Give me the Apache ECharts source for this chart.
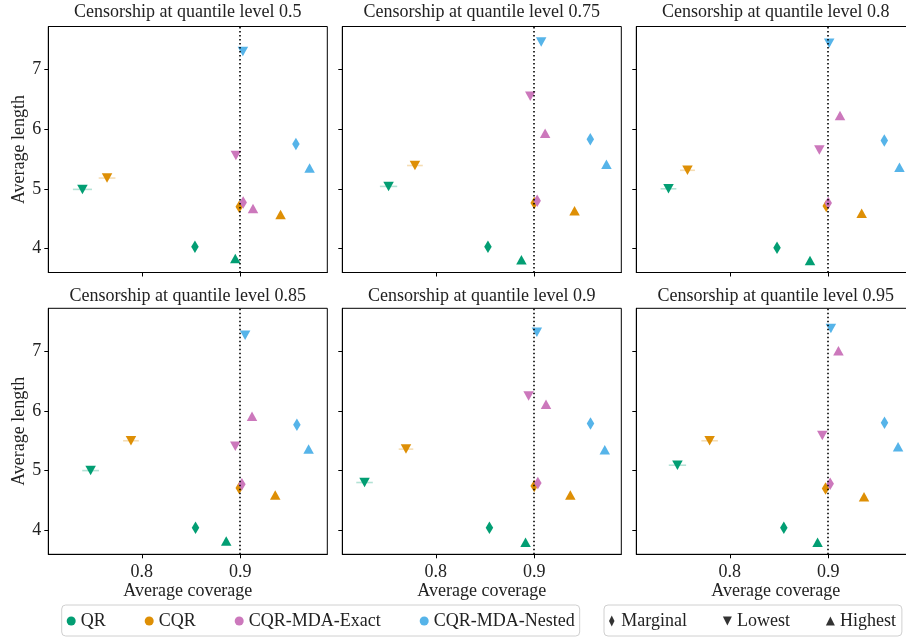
<!DOCTYPE html>
<html>
<head>
<meta charset="utf-8">
<script src="https://cdn.jsdelivr.net/npm/echarts@6/dist/echarts.min.js"></script>
<style>
html,body{margin:0;padding:0;background:#fff;}
#chart{width:906px;height:637px;}
</style>
</head>
<body>
<div id="chart"></div>
<script>
// ---- data ----
const quantileLevels = ['0.5', '0.75', '0.8', '0.85', '0.9', '0.95'];
const methods = ['QR', 'CQR', 'CQR-MDA-Exact', 'CQR-MDA-Nested'];
const markerTypes = ['Marginal', 'Lowest', 'Highest'];
const xTicks = [0.8, 0.9];
const yTicks = [4, 5, 6, 7];
const targetCoverage = 0.9;

// [average coverage, average length] per panel (quantile level)
const qrMarginal = [[0.854, 4.03], [0.853, 4.03], [0.848, 4.01], [0.8546, 4.04], [0.8545, 4.04], [0.8549, 4.04]];
const qrLowest = [[0.7397, 4.99], [0.752, 5.04], [0.7377, 5.00], [0.748, 5.00], [0.7276, 4.80], [0.7468, 5.09]];
const qrHighest = [[0.895, 3.83], [0.887, 3.81], [0.8815, 3.80], [0.8858, 3.82], [0.8912, 3.80], [0.8892, 3.80]];

const cqrMarginal = [[0.899, 4.70], [0.900, 4.76], [0.898, 4.71], [0.899, 4.71], [0.900, 4.74], [0.8973, 4.70]];
const cqrLowest = [[0.7647, 5.18], [0.7788, 5.39], [0.757, 5.31], [0.789, 5.50], [0.7697, 5.36], [0.7795, 5.50]];
const cqrHighest = [[0.941, 4.57], [0.941, 4.63], [0.934, 4.59], [0.9356, 4.59], [0.9367, 4.59], [0.9364, 4.56]];

const exactMarginal = [[0.903, 4.77], [0.903, 4.80], [0.900, 4.76], [0.9017, 4.77], [0.9037, 4.79], [0.902, 4.78]];
const exactLowest = [[0.8956, 5.56], [0.896, 6.55], [0.891, 5.65], [0.895, 5.41], [0.8943, 6.25], [0.894, 5.59]];
const exactHighest = [[0.913, 4.67], [0.9111, 5.93], [0.912, 6.23], [0.912, 5.91], [0.912, 6.11], [0.9104, 7.01]];

const nestedMarginal = [[0.9566, 5.75], [0.957, 5.83], [0.957, 5.81], [0.9576, 5.77], [0.9572, 5.79], [0.9572, 5.80]];
const nestedLowest = [[0.9027, 7.30], [0.9071, 7.46], [0.901, 7.44], [0.905, 7.27], [0.9027, 7.32], [0.9027, 7.38]];
const nestedHighest = [[0.9705, 5.35], [0.9734, 5.41], [0.9724, 5.36], [0.9695, 5.36], [0.9717, 5.35], [0.971, 5.40]];

// coverage error (half-width) of the lowest-group points
const qrLowestErr = [0.0097, 0.0088, 0.008, 0.0085, 0.0084, 0.0088];
const cqrLowestErr = [0.0085, 0.008, 0.0076, 0.008, 0.0074, 0.0084];

// ---- styling ----
const FONT = 'Liberation Serif';
const TXT = '#222';
const methodColors = ['#029e73', '#de8f05', '#cc78bc', '#56b4e9'];
const methodData = [
  [qrMarginal, qrLowest, qrHighest],
  [cqrMarginal, cqrLowest, cqrHighest],
  [exactMarginal, exactLowest, exactHighest],
  [nestedMarginal, nestedLowest, nestedHighest]
];
const errData = [[qrLowest, qrLowestErr, 0], [cqrLowest, cqrLowestErr, 1]];

const PANEL_W = 279, PANEL_H = 246;
const X0 = 48.3, COL_STEP = 294;
const ROW_TOPS = [26.5, 308.3];
const TITLE_Y = [3.5, 287];
const X_MIN = 0.705, X_MAX = 0.9885, Y_MIN = 3.597, Y_MAX = 7.72;

const grids = [], xAxes = [], yAxes = [], titleTexts = [], series = [];

quantileLevels.forEach((q, i) => {
  const col = i % 3, row = Math.floor(i / 3);
  const left = X0 + col * COL_STEP, top = ROW_TOPS[row];
  grids.push({
    left: left, top: top, width: PANEL_W, height: PANEL_H,
    outerBoundsMode: 'none', containLabel: false,
    show: true, borderColor: '#000', borderWidth: 1, backgroundColor: 'transparent'
  });
  titleTexts.push({
    type: 'text', x: left + PANEL_W / 2, y: TITLE_Y[row], silent: true,
    style: { text: 'Censorship at quantile level ' + q, align: 'center', verticalAlign: 'top',
      fontFamily: FONT, fontSize: 18, fill: TXT }
  });
  xAxes.push({
    type: 'value', gridIndex: i, min: X_MIN, max: X_MAX,
    axisLine: { show: true, onZero: false, lineStyle: { color: '#000', width: 1 } },
    axisTick: { show: true, length: 4, customValues: xTicks, lineStyle: { color: '#000' } },
    axisLabel: { show: row === 1, customValues: xTicks, margin: 9,
      fontFamily: FONT, fontSize: 18, color: TXT, formatter: v => v.toFixed(1) },
    splitLine: { show: false },
    name: row === 1 ? 'Average coverage' : '', nameLocation: 'middle', nameGap: 28,
    nameTextStyle: { fontFamily: FONT, fontSize: 18, color: TXT }
  });
  yAxes.push({
    type: 'value', gridIndex: i, min: Y_MIN, max: Y_MAX,
    axisLine: { show: true, onZero: false, lineStyle: { color: '#000', width: 1 } },
    axisTick: { show: true, length: 4, customValues: yTicks, lineStyle: { color: '#000' } },
    axisLabel: { show: col === 0, customValues: yTicks, margin: 7,
      fontFamily: FONT, fontSize: 18, color: TXT },
    splitLine: { show: false },
    name: col === 0 ? 'Average length' : '', nameLocation: 'middle', nameGap: 19,
    nameTextStyle: { fontFamily: FONT, fontSize: 18, color: TXT }
  });

  // error bars (drawn first, behind markers)
  errData.forEach(([pts, errs, mi]) => {
    series.push({
      type: 'custom', name: 'err-' + methods[mi], xAxisIndex: i, yAxisIndex: i, z: 1,
      silent: true,
      data: [[pts[i][0], pts[i][1], errs[i]]],
      encode: { x: 0, y: 1 },
      renderItem: (params, api) => {
        const x = api.value(0), y = api.value(1), e = api.value(2);
        const p1 = api.coord([x - e, y]), p2 = api.coord([x + e, y]);
        return { type: 'line', shape: { x1: p1[0], y1: p1[1], x2: p2[0], y2: p2[1] },
          style: { stroke: methodColors[mi], lineWidth: 1.6, opacity: 0.3 } };
      }
    });
  });

  methods.forEach((m, mi) => {
    const [marg, low, high] = methodData[mi];
    const s = {
      type: 'scatter', name: m, xAxisIndex: i, yAxisIndex: i, z: 3 + mi,
      silent: true,
      itemStyle: { color: methodColors[mi], opacity: 1 },
      data: [
        { value: marg[i], symbol: 'diamond', symbolSize: [7.5, 12.5] },
        { value: low[i], symbol: 'triangle', symbolRotate: 180, symbolSize: [10.5, 9.5] },
        { value: high[i], symbol: 'triangle', symbolSize: [10.5, 9.5] }
      ]
    };
    if (mi === 0) {
      s.markLine = {
        silent: true, symbol: ['none', 'none'], label: { show: false },
        lineStyle: { type: [1.5, 2.5], color: '#000', width: 1.6 },
        data: [{ xAxis: targetCoverage }], animation: false, z: 10
      };
    }
    series.push(s);
  });
});

// dummy series for the marker-shape legend
markerTypes.forEach(t => {
  series.push({ type: 'scatter', name: t, xAxisIndex: 0, yAxisIndex: 0, data: [],
    itemStyle: { color: '#000' } });
});

const legendText = { fontFamily: FONT, fontSize: 18, color: TXT };
const option = {
  animation: false,
  backgroundColor: '#fff',
  graphic: titleTexts,
  grid: grids,
  xAxis: xAxes,
  yAxis: yAxes,
  legend: [
    {
      left: 61.7, top: 605, orient: 'horizontal', selectedMode: false,
      data: methods.map(m => ({ name: m, icon: 'circle' })),
      itemWidth: 9, itemHeight: 9, itemGap: 39,
      padding: [7, 5, 6, 5], borderColor: '#d0d0d0', borderWidth: 1, borderRadius: 4,
      textStyle: legendText
    },
    {
      left: 604, top: 605, orient: 'horizontal', selectedMode: false,
      data: [
        { name: 'Marginal', icon: 'path://M5,0L8,6L5,12L2,6Z' },
        { name: 'Lowest', icon: 'path://M0,0L10,0L5,10Z' },
        { name: 'Highest', icon: 'path://M5,0L10,10L0,10Z' }
      ],
      itemWidth: 9, itemHeight: 11, itemGap: 36,
      padding: [7, 6, 6, 5], borderColor: '#d0d0d0', borderWidth: 1, borderRadius: 4,
      textStyle: legendText
    }
  ],
  series: series
};

const chart = echarts.init(document.getElementById('chart'), null, { renderer: 'canvas' });
chart.setOption(option);
</script>
</body>
</html>
